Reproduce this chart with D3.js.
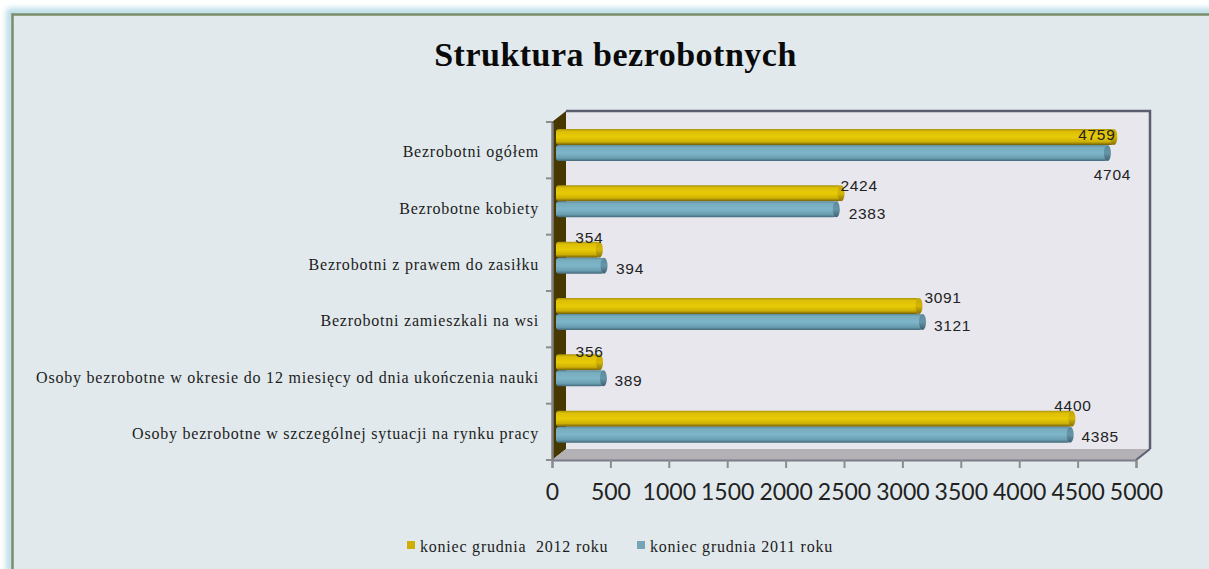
<!DOCTYPE html>
<html>
<head>
<meta charset="utf-8">
<script src="https://cdn.jsdelivr.net/npm/d3@7"></script>
<style>
html, body { margin: 0; padding: 0; background: #fff; overflow: hidden; }
svg { display: block; }
.lab { font-family: "Liberation Serif", serif; font-size: 16px; fill: #1c1c1c; letter-spacing: .78px; }
.val { font-family: "Liberation Sans", sans-serif; font-size: 15.5px; fill: #222; letter-spacing: .7px; text-anchor: middle; }
</style>
</head>
<body>
<svg id="chart" width="1209" height="569"></svg>
<script>
var categories = [
    "Bezrobotni ogółem",
    "Bezrobotne kobiety",
    "Bezrobotni z prawem do zasiłku",
    "Bezrobotni zamieszkali na wsi",
    "Osoby bezrobotne w okresie do 12 miesięcy od dnia ukończenia nauki",
    "Osoby bezrobotne w szczególnej sytuacji na rynku pracy"
],
    values2012 = [4759, 2424, 354, 3091, 356, 4400],
    values2011 = [4704, 2383, 394, 3121, 389, 4385],
    xTicks = [0, 500, 1000, 1500, 2000, 2500, 3000, 3500, 4000, 4500, 5000],
    seriesNames = ["koniec grudnia  2012 roku", "koniec grudnia 2011 roku"];

// hand placed labels in the original, so nudges per bar
var nudge2012 = [[-20, -3], [15, -8], [-13, -13], [21, -9], [-13, -11], [-2, -14]],
    nudge2011 = [[2, 21], [28, 4], [23, 2], [27, 3], [22, 2], [27, 1]];

var svg = d3.select("#chart"),
    defs = svg.append("defs"),
    x = d3.scaleLinear().domain([0, 5000]).range([552, 1136]),
    y = d3.scaleBand().domain(categories).range([122, 460]),
    depthX = 14, depthY = 11,
    barH = 16, barShift = 9,
    floorY = y.range()[1], topY = y.range()[0];

function grad(id, stops) {
    let g = defs.append("linearGradient").attr("id", id).attr("x1", 0).attr("x2", 0).attr("y1", 0).attr("y2", 1);
    stops.forEach(function (s) { g.append("stop").attr("offset", s[0]).attr("stop-color", s[1]) });
}
grad("gy", [[0, "#a8920c"], [.15, "#dcbe06"], [.5, "#e8cb06"], [.8, "#cdb004"], [1, "#6f5c08"]]);
grad("gb", [[0, "#5f8d9f"], [.15, "#78adbf"], [.5, "#7eb5c8"], [.82, "#699eb0"], [1, "#44677a"]]);
grad("gyc", [[0, "#c0a508"], [.5, "#d6b604"], [1, "#85700a"]]);
grad("gbc", [[0, "#5b8999"], [.5, "#6596a8"], [1, "#3e6070"]]);

defs.append("filter").attr("id", "glow").attr("x", "-5%").attr("y", "-5%").attr("width", "110%").attr("height", "110%")
    .append("feGaussianBlur").attr("stdDeviation", 3);

// panel
svg.append("rect").attr("x", 10).attr("y", 12).attr("width", 1260).attr("height", 640)
    .attr("fill", "none").attr("stroke", "#a6d3e2").attr("stroke-width", 6).attr("filter", "url(#glow)");
svg.append("rect").attr("x", 12.5).attr("y", 14.5).attr("width", 1260).attr("height", 640)
    .attr("fill", "#e1e9ec").attr("stroke", "#7b8d6b").attr("stroke-width", 2.5);

svg.append("text").attr("x", 615.5).attr("y", 66).attr("text-anchor", "middle")
    .style("font-family", "'Liberation Serif', serif").style("font-weight", "bold")
    .style("font-size", "34px").style("fill", "#0a0a0a").style("letter-spacing", ".5px")
    .text("Struktura bezrobotnych");

// 3d box
var x0 = x(0), x1 = x(5000);
svg.append("rect").attr("x", x0 + depthX).attr("y", topY - depthY)
    .attr("width", x1 - x0).attr("height", floorY - topY)
    .attr("fill", "#e8e7ee");
svg.append("path")
    .attr("d", d3.line()([[x0 + depthX, topY - depthY], [x1 + depthX, topY - depthY], [x1 + depthX, floorY - depthY]]))
    .attr("fill", "none").attr("stroke", "#5d5d70").attr("stroke-width", 2.5);
svg.append("path")
    .attr("d", d3.line()([[x0, topY], [x0 + depthX, topY - depthY], [x0 + depthX, floorY - depthY], [x0, floorY]]) + "Z")
    .attr("fill", "#473800");
svg.append("path")
    .attr("d", d3.line()([[x0, floorY], [x0 + depthX, floorY - depthY], [x1 + depthX, floorY - depthY], [x1, floorY]]) + "Z")
    .attr("fill", "#b3b1b6");
svg.append("path")
    .attr("d", d3.line()([[x1 + depthX, floorY - depthY], [x1, floorY]]))
    .attr("fill", "none").attr("stroke", "#5d5d70").attr("stroke-width", 2);

// bars, bottom series first so the top one stays on its own row
function bars(vals, off, fill, cap) {
    let g = svg.append("g").selectAll("g").data(categories).join("g");
    g.append("rect")
        .attr("x", x0 + 4)
        .attr("y", d => y(d) + off)
        .attr("width", (d, i) => x(vals[i]) + barShift - x0 - 7)
        .attr("height", barH)
        .attr("rx", 3)
        .attr("fill", "url(#" + fill + ")");
    g.append("ellipse")
        .attr("cx", (d, i) => x(vals[i]) + barShift - 3)
        .attr("cy", d => y(d) + off + barH / 2)
        .attr("rx", 3.5).attr("ry", barH / 2)
        .attr("fill", "url(#" + cap + ")");
}
bars(values2012, 7, "gy", "gyc");
bars(values2011, 23, "gb", "gbc");

// axes
var xAxis = svg.append("g").attr("transform", "translate(0," + floorY + ")")
    .call(d3.axisBottom(x).tickValues(xTicks).tickSize(8).tickPadding(16).tickFormat(d3.format("d")));
xAxis.select(".domain").attr("stroke", "#7d7d88").attr("stroke-width", 2);
xAxis.selectAll(".tick line").attr("stroke", "#8c8c8c").attr("stroke-width", 2);
xAxis.selectAll("text").style("font-family", "Lato, sans-serif").style("font-size", "23px").style("fill", "#222");

var yAxis = svg.append("g").attr("transform", "translate(" + x0 + ",0)")
    .call(d3.axisLeft(y).tickSize(0).tickPadding(13));
yAxis.select(".domain").attr("stroke", "#808080").attr("stroke-width", 2.5);
yAxis.selectAll("text").attr("class", "lab").attr("dy", null).attr("dominant-baseline", null)
    .attr("y", 7);
yAxis.selectAll(".ytick").data(d3.range(categories.length + 1)).join("line").attr("class", "ytick")
    .attr("x1", -6).attr("x2", 0)
    .attr("y1", i => topY + i * y.step()).attr("y2", i => topY + i * y.step())
    .attr("stroke", "#8c8c8c").attr("stroke-width", 2);

// value labels
function labels(vals, off, nudge) {
    svg.append("g").selectAll("text").data(categories).join("text")
        .attr("class", "val")
        .attr("x", (d, i) => x(vals[i]) + barShift + nudge[i][0])
        .attr("y", (d, i) => y(d) + off + barH / 2 + nudge[i][1] + 6)
        .text((d, i) => vals[i]);
}
labels(values2012, 7, nudge2012);
labels(values2011, 23, nudge2011);

// legend
var legendX = [407, 637], legendText = [420, 650];
[["#cfae08"], ["#76a3b5"]].forEach(function (c, i) {
    svg.append("rect").attr("x", legendX[i]).attr("y", 541).attr("width", 8).attr("height", 8).attr("fill", c[0]);
    svg.append("text").attr("class", "lab").attr("x", legendText[i]).attr("y", 552)
        .style("white-space", "pre").text(seriesNames[i]);
});
</script>
</body>
</html>
